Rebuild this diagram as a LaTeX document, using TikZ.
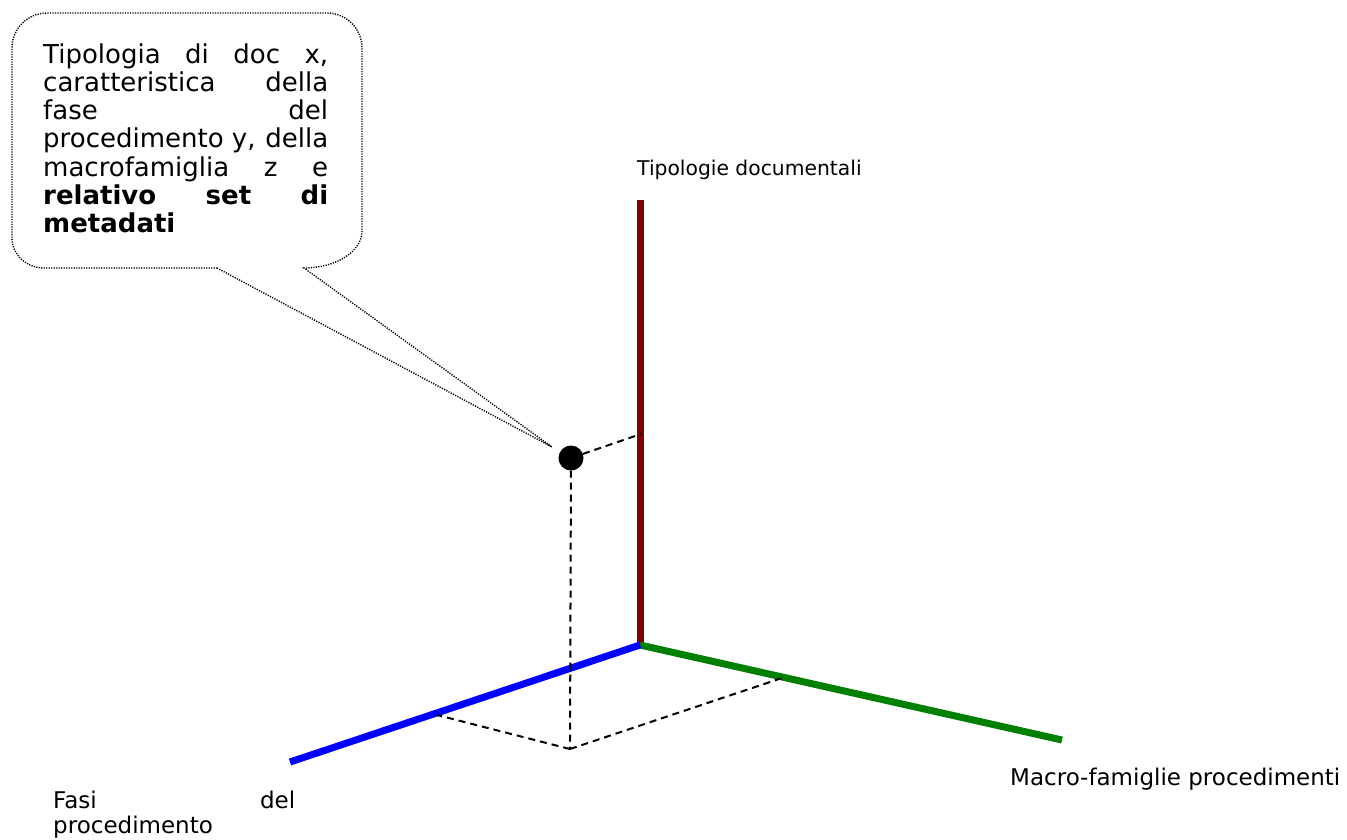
\documentclass[tikz,border=0pt]{standalone}
\usepackage{fontspec}
\setmainfont{DejaVu Sans}
\definecolor{axred}{RGB}{128,0,0}
\definecolor{axgreen}{RGB}{0,128,0}
\definecolor{axblue}{RGB}{0,0,255}
\begin{document}
\begin{tikzpicture}[x=1pt,y=1pt,
  axis/.style={line width=7pt, line cap=butt},
  guide/.style={line width=2pt, dash pattern=on 7pt off 5pt},
  callout/.style={line width=1.4pt, dash pattern=on 1.2pt off 1.3pt},
  lbl/.style={anchor=base west, inner sep=0pt}]
\useasboundingbox (0,0) rectangle (1347,-839);
% axes
\coordinate (O) at (640,-645);
\coordinate (ztop) at (640,-200);
\coordinate (xend) at (290,-762);
\coordinate (yend) at (1062,-740);
\draw[axis, axred] (O) -- (ztop);
\draw[axis, axgreen] (O) -- (yend);
\draw[axis, axblue] (O) -- (xend);
% point and projections
\node[circle, fill=black, minimum size=25pt, inner sep=0pt] (dot) at (571,-458) {};
\coordinate (zp) at (641,-434);
\coordinate (bot) at (570,-749);
\coordinate (xp) at (437,-715);
\coordinate (yp) at (782,-678);
\draw[guide] (dot) -- (zp);
\draw[guide] (dot) -- (bot);
\draw[guide] (bot) -- (xp);
\draw[guide] (bot) -- (yp);
% callout
\coordinate (tip) at (552,-447);
\draw[callout] (217,-268) -- (tip) -- (304,-268)
  arc[start angle=-90, end angle=0, x radius=58pt, y radius=37pt]
  -- (362,-48) arc[start angle=0, end angle=90, radius=35pt]
  -- (47,-13) arc[start angle=90, end angle=180, radius=35pt]
  -- (12,-238) arc[start angle=180, end angle=270, x radius=32pt, y radius=30pt]
  -- cycle;
\node[lbl, font=\fontsize{26}{28.3}\selectfont] (txt) at (43,-63) {%
  \begin{minipage}[t]{285pt}
  \hbox to 285pt{Tipologia\hfill di\hfill doc\hfill x,}
  \hbox to 285pt{caratteristica\hfill della}
  \hbox to 285pt{fase\hfill del}
  \hbox to 285pt{procedimento y,\hfill della}
  \hbox to 285pt{macrofamiglia\hfill z\hfill e}
  \hbox to 285pt{\bfseries relativo\hfill set\hfill di}
  \hbox to 285pt{\bfseries metadati\hfill}
  \end{minipage}};
% axis labels
\node[lbl, font=\fontsize{20.3}{24}\selectfont] (lz) at (637,-175) {Tipologie documentali};
\node[lbl, font=\fontsize{23}{25}\selectfont] (ly) at (1010,-785) {Macro-famiglie procedimenti};
\node[lbl, font=\fontsize{23}{25}\selectfont] (lx1) at (53,-808) {\hbox to 242pt{Fasi\hfill del}};
\node[lbl, font=\fontsize{23}{25}\selectfont] (lx2) at (53,-833) {procedimento};
\end{tikzpicture}
\end{document}
